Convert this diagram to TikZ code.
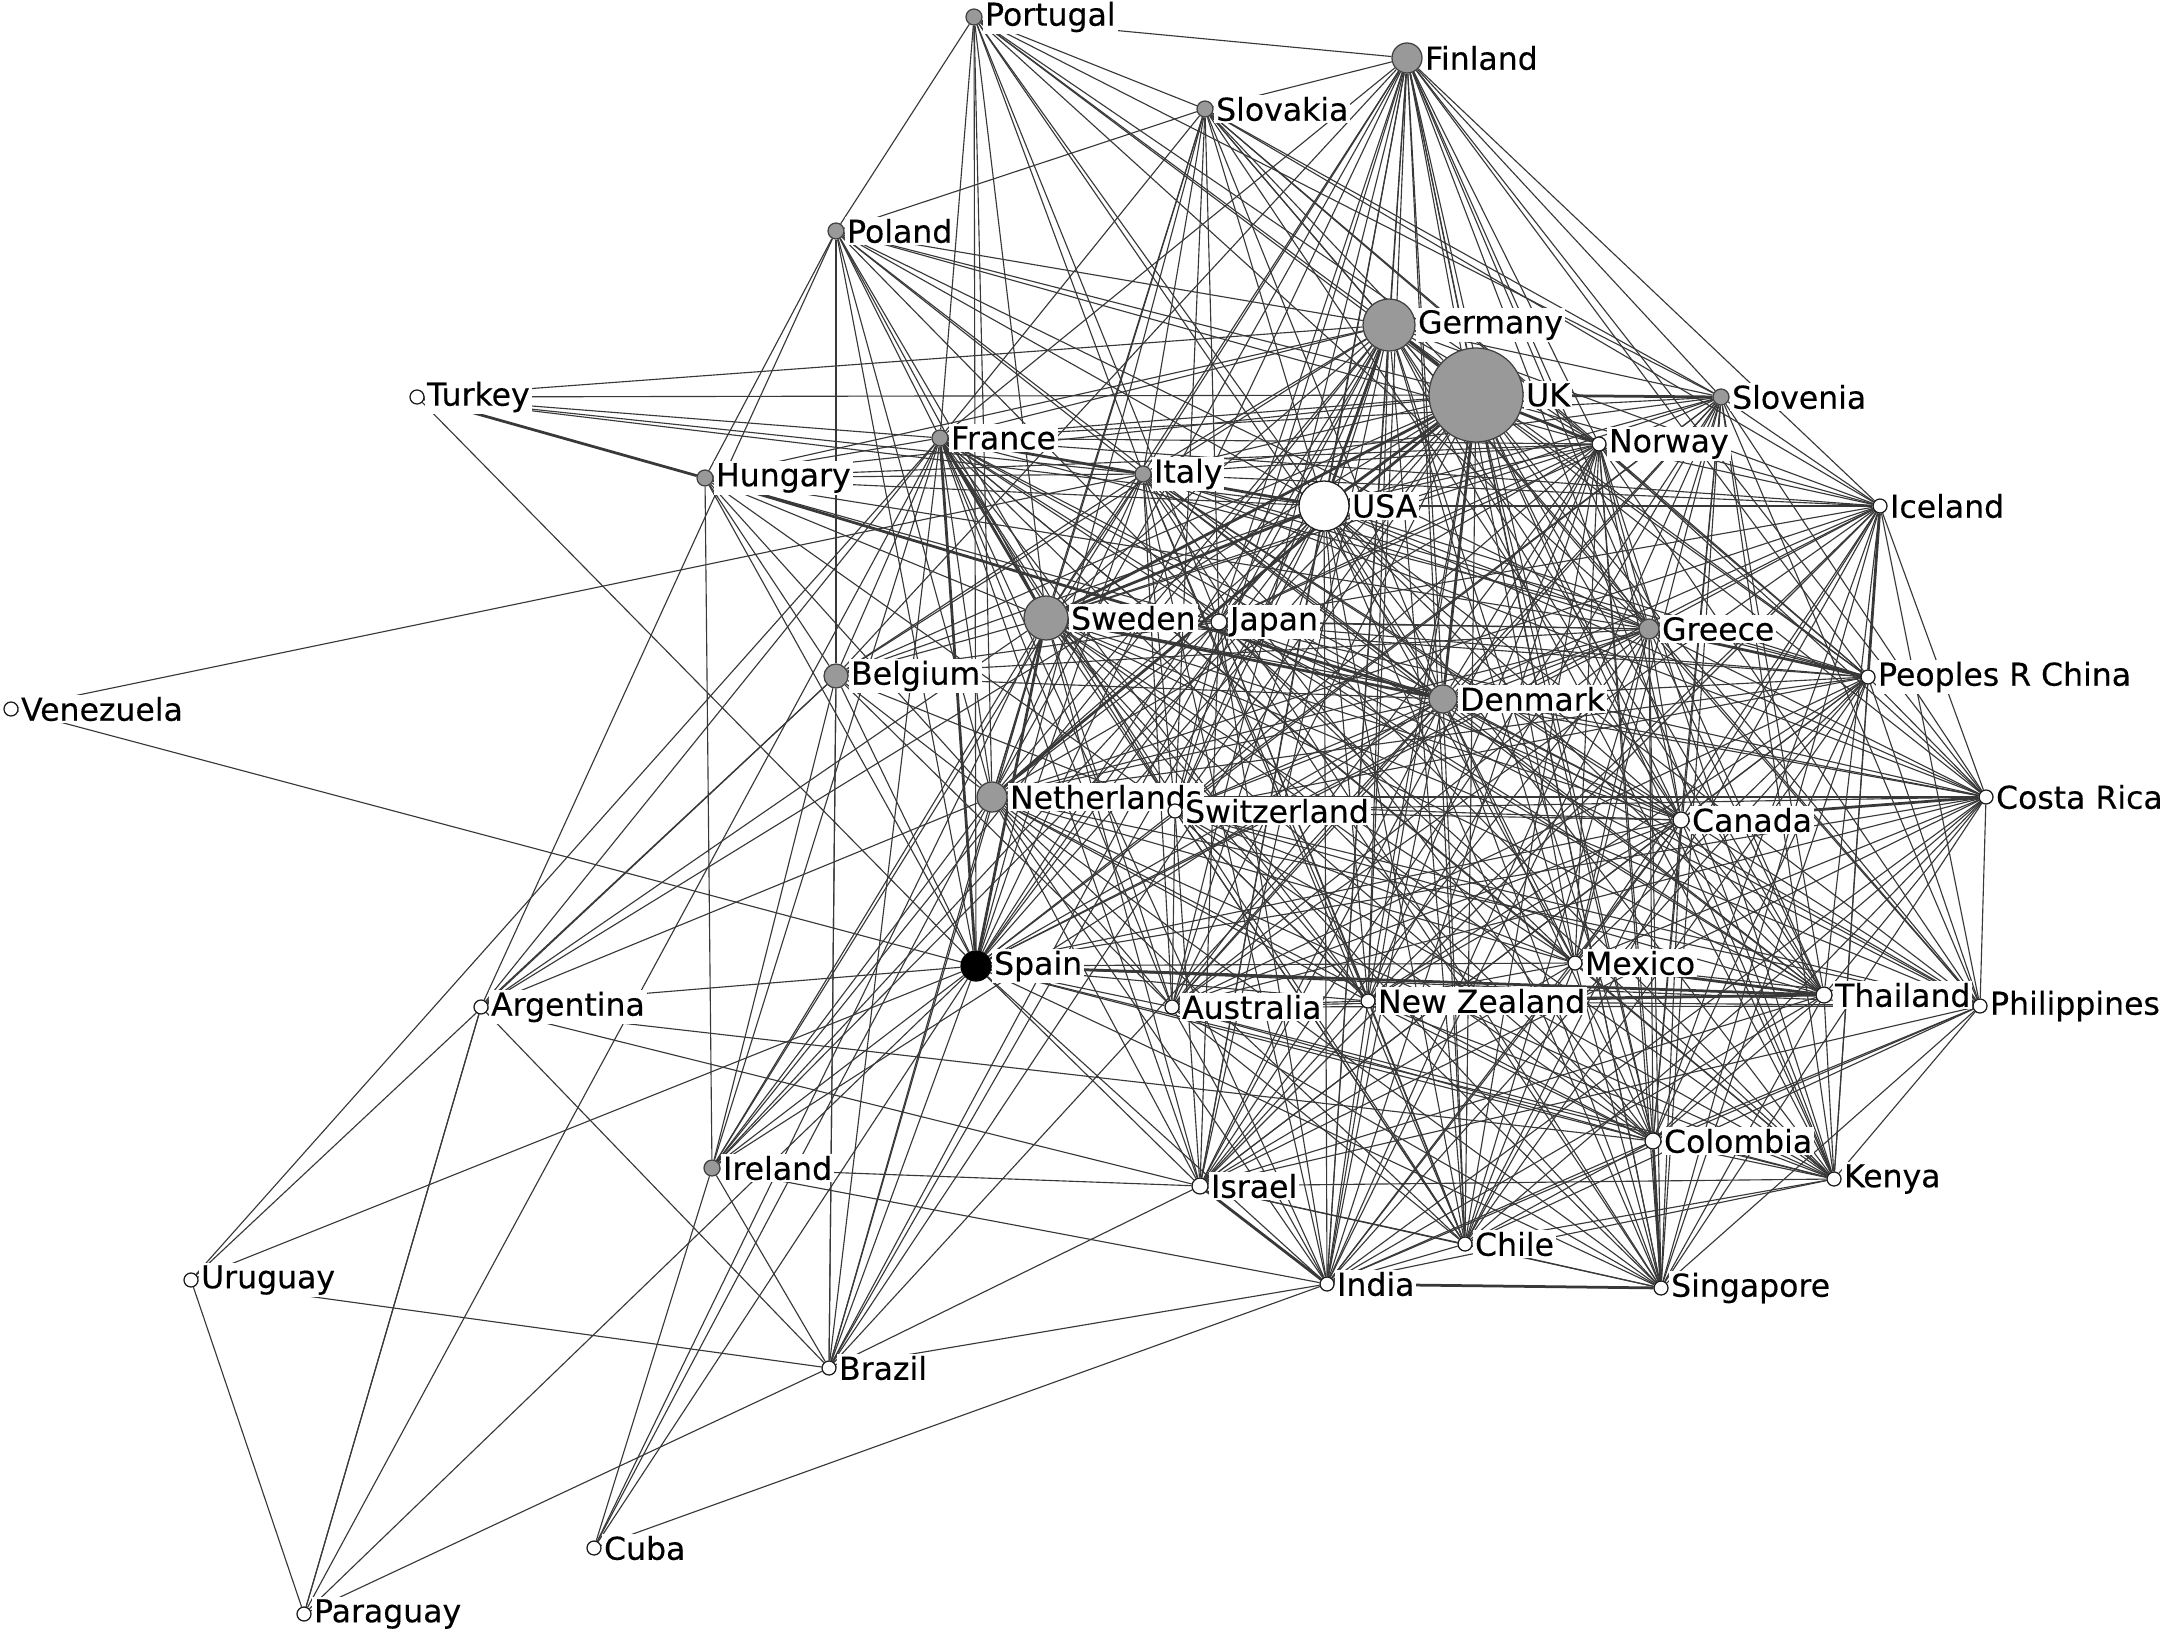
\documentclass[tikz,border=0pt]{standalone}
\usepackage{fontspec}
\setmainfont{DejaVu Sans}[FakeBold=0.35]
\pgfdeclarelayer{bgfill}
\pgfdeclarelayer{edges}
\pgfsetlayers{bgfill,edges,main}
\tikzset{
  base/.style={circle, inner sep=0pt, line width=0.5pt},
  gn/.style={base, fill=black!40, draw=black!75, minimum size=#1},
  wn/.style={base, fill=white, draw=black!90, minimum size=#1},
  bn/.style={base, fill=black, draw=black, minimum size=#1},
  lbl/.style={fill=white, inner sep=0.8pt, text=black, font=\fontsize{12.6}{15}\selectfont},
  edge/.style={line width=0.45pt, draw=black!78},
  hedge/.style={line width=1.1pt, draw=black!78},
}
\newcommand{\nd}[5]{\node[#1=#2, label={[lbl]east:#5}] (#3) at #4 {};}
\begin{document}
\begin{tikzpicture}[x=0.4pt,y=-0.4pt]
\begin{pgfonlayer}{bgfill}
\fill[white] (0,0) rectangle (2167,1639);
\end{pgfonlayer}
\useasboundingbox (0,0) rectangle (2167,1639);
% nodes
\nd{gn}{6.4pt}{pt}{(974,17)}{Portugal}
\nd{gn}{12pt}{fin}{(1407,58)}{Finland}
\nd{gn}{6.4pt}{sk}{(1205,109)}{Slovakia}
\nd{gn}{6.4pt}{pl}{(836,231)}{Poland}
\nd{gn}{20.8pt}{ger}{(1389,325)}{Germany}
\nd{gn}{37.6pt}{uk}{(1476,395)}{UK}
\nd{gn}{6.4pt}{slo}{(1721,397)}{Slovenia}
\nd{wn}{5.6pt}{tr}{(417,397)}{Turkey}
\nd{gn}{6.4pt}{fra}{(940,438)}{France}
\nd{wn}{5.6pt}{nor}{(1599,444)}{Norway}
\nd{gn}{6.4pt}{hu}{(705,478)}{Hungary}
\nd{gn}{6.4pt}{ita}{(1143,474)}{Italy}
\nd{wn}{20pt}{usa}{(1324,506)}{USA}
\nd{wn}{5.6pt}{ice}{(1880,506)}{Iceland}
\nd{gn}{17.6pt}{swe}{(1046,618)}{Sweden}
\nd{wn}{6.4pt}{jpn}{(1219,622)}{Japan}
\nd{gn}{8pt}{gre}{(1649,629)}{Greece}
\nd{gn}{9.6pt}{be}{(836,676)}{Belgium}
\nd{wn}{5.6pt}{chn}{(1868,677)}{Peoples R China}
\nd{gn}{11.2pt}{den}{(1443,699)}{Denmark}
\nd{wn}{5.6pt}{ve}{(11,709)}{Venezuela}
\nd{gn}{12pt}{ned}{(992,797)}{Netherlands}
\nd{wn}{5.6pt}{swi}{(1175,811)}{Switzerland}
\nd{wn}{6.4pt}{can}{(1681,820)}{Canada}
\nd{wn}{5.6pt}{cri}{(1986,797)}{Costa Rica}
\nd{bn}{12pt}{esp}{(976,966)}{Spain}
\nd{wn}{5.6pt}{mex}{(1575,963)}{Mexico}
\nd{wn}{5.6pt}{ar}{(481,1007)}{Argentina}
\nd{wn}{5.6pt}{aus}{(1172,1007)}{Australia}
\nd{wn}{5.6pt}{nzl}{(1368,1001)}{New Zealand}
\nd{wn}{6.4pt}{tha}{(1824,995)}{Thailand}
\nd{wn}{5.6pt}{phi}{(1980,1006)}{Philippines}
\nd{wn}{6.4pt}{col}{(1653,1141)}{Colombia}
\nd{gn}{6.4pt}{ie}{(712,1168)}{Ireland}
\nd{wn}{6.4pt}{isr}{(1200,1186)}{Israel}
\nd{wn}{5.6pt}{ken}{(1834,1179)}{Kenya}
\nd{wn}{5.6pt}{uy}{(191,1280)}{Uruguay}
\nd{wn}{5.6pt}{chl}{(1465,1244)}{Chile}
\nd{wn}{5.6pt}{ind}{(1327,1284)}{India}
\nd{wn}{5.6pt}{sgp}{(1661,1288)}{Singapore}
\nd{wn}{5.6pt}{br}{(829,1368)}{Brazil}
\nd{wn}{5.6pt}{cu}{(594,1548)}{Cuba}
\nd{wn}{5.6pt}{py}{(304,1614)}{Paraguay}
% edges
\def\corelist{uk,ger,usa,swe,ned,den,esp,fin,ita,fra,jpn,swi,nor,gre,slo,can,aus,nzl,mex,ice,chn,cri,tha,phi,col,ken,isr,ind,chl,sgp}
\begin{pgfonlayer}{edges}
\foreach \a [count=\i] in \corelist {
  \foreach \b [count=\j] in \corelist {
    \ifnum\j>\i
      \pgfmathtruncatemacro\r{mod(\i*7+\j*11,8)}
      \ifnum\r>0 \draw[edge] (\a) -- (\b); \fi
    \fi
  }
}
\foreach \u in {fin,pl,esp,ned,swe,fra,ita,ger,uk,den,nor,usa,slo,gre,jpn,sk} \draw[edge] (pt) -- (\u);
\foreach \u in {pl,fin,fra,ita,esp,swe,ned,ger,uk,usa,den,gre,slo,nor,jpn,swi,ice,chn,can} \draw[edge] (sk) -- (\u);
\foreach \u in {hu,be,fra,esp,swe,ned,ita,ger,uk,den,gre,usa,ar,jpn,swi,nor} \draw[edge] (pl) -- (\u);
\foreach \u in {tr,ie,fra,ita,swe,den,ned,esp,ger,uk,usa,jpn,be,gre,nor,swi} \draw[edge] (hu) -- (\u);
\foreach \u in {esp,ned,swe,fra,ger,uk,usa,den,ita,br,jpn,swi,gre,fin,aus} \draw[edge] (be) -- (\u);
\foreach \u in {hu,fra,ger,uk,usa,esp,ita} \draw[edge] (tr) -- (\u);
\foreach \u in {esp,ita} \draw[edge] (ve) -- (\u);
\foreach \u in {be,fra,esp,br,py} \draw[edge] (uy) -- (\u);
\foreach \u in {ar,fra,esp,br} \draw[edge] (py) -- (\u);
\foreach \u in {ie,esp,swe,ind,ned} \draw[edge] (cu) -- (\u);
\foreach \u in {esp,py,br,isr,swe,ned,fra,be,col,uk} \draw[edge] (ar) -- (\u);
\foreach \u in {ie,esp,ned,be,swe,fra,ind,isr,ger,uk,den,usa} \draw[edge] (br) -- (\u);
\foreach \u in {esp,isr,ind,swe,ned,ger,uk,fra,be,den,usa,ita} \draw[edge] (ie) -- (\u);
\foreach \a/\b in {uk/usa,uk/ger,ger/usa,uk/swe,usa/swe,fra/ita,fra/esp,hu/tr,uk/slo,uk/nor,can/cri,nzl/tha,col/sgp,isr/ind,swe/den,uk/den,ned/uk,chn/gre,esp/swe,ita/usa,fra/swe,hu/den,chn/ice,esp/tha,mex/tha,ind/sgp}
  \draw[hedge] (\a) -- (\b);
\end{pgfonlayer}
\end{tikzpicture}
\end{document}
